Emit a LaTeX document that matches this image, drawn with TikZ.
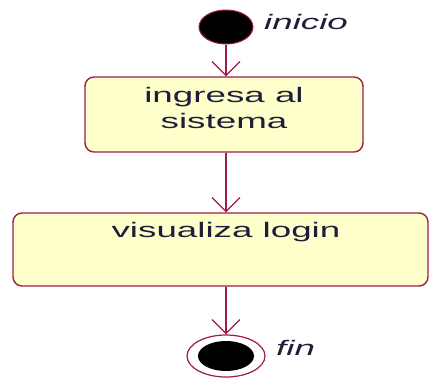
\documentclass[tikz,border=0pt]{standalone}
\usepackage{fontspec}
\setmainfont{Liberation Sans}
\usepackage{graphicx}
\usepackage{tikz}
\usetikzlibrary{arrows.meta,positioning,shapes.geometric}
\definecolor{wine}{HTML}{9E1B4B}
\definecolor{lemon}{HTML}{FFFFCC}
\definecolor{ink}{HTML}{1E1E3A}
\newcommand{\wide}[1]{\scalebox{1.75}[1]{#1}}
\tikzset{
  activity/.style={draw=wine,line width=1.4pt,rounded corners=9pt,fill=lemon,
    text=ink,font=\fontsize{21}{26}\selectfont,inner xsep=0pt},
  initial/.style={ellipse,draw=wine,line width=1pt,fill=black,
    minimum width=54pt,minimum height=34pt,inner sep=0pt},
  final/.style={ellipse,draw=wine,line width=1.2pt,fill=white,
    minimum width=78pt,minimum height=42pt,inner sep=0pt,
    path picture={\fill[black] (path picture bounding box.center) ellipse (28pt and 15pt);}},
  tag/.style={text=ink,font=\fontsize{21}{26}\selectfont\itshape,inner sep=0pt},
  flow/.style={-{Straight Barb[length=14pt,width=28pt,line width=1.2pt]},draw=wine,line width=1.4pt}
}
\begin{document}
\begin{tikzpicture}[x=1pt,y=-1pt]
  \useasboundingbox (0,0) rectangle (429,381);
  \node[initial] (start) at (226,27) {};
  \node[tag,anchor=west] (inicio) at (264,22) {\wide{inicio}};
  \node[activity,minimum width=278pt,minimum height=75pt,inner ysep=7pt,
    text height=18.2pt,text depth=42.8pt] (ingreso) at (224,114.5)
    {\begin{tabular}[t]{@{}c@{}}\wide{ingresa al}\\\wide{sistema}\end{tabular}};
  \node[activity,minimum width=415pt,minimum height=73pt,inner ysep=8pt,
    text height=16pt,text depth=41pt] (login) at (220.5,249.5)
    {\hspace*{11pt}\wide{visualiza login}};
  \node[final] (end) at (226,356) {};
  \node[tag,anchor=west] (fin) at (276,348) {\wide{fin}};
  \draw[flow] (start.south) -- (start.south |- ingreso.north);
  \draw[flow] (start.south |- ingreso.south) -- (start.south |- login.north);
  \draw[flow] (start.south |- login.south) -- (end.north);
\end{tikzpicture}
\end{document}
